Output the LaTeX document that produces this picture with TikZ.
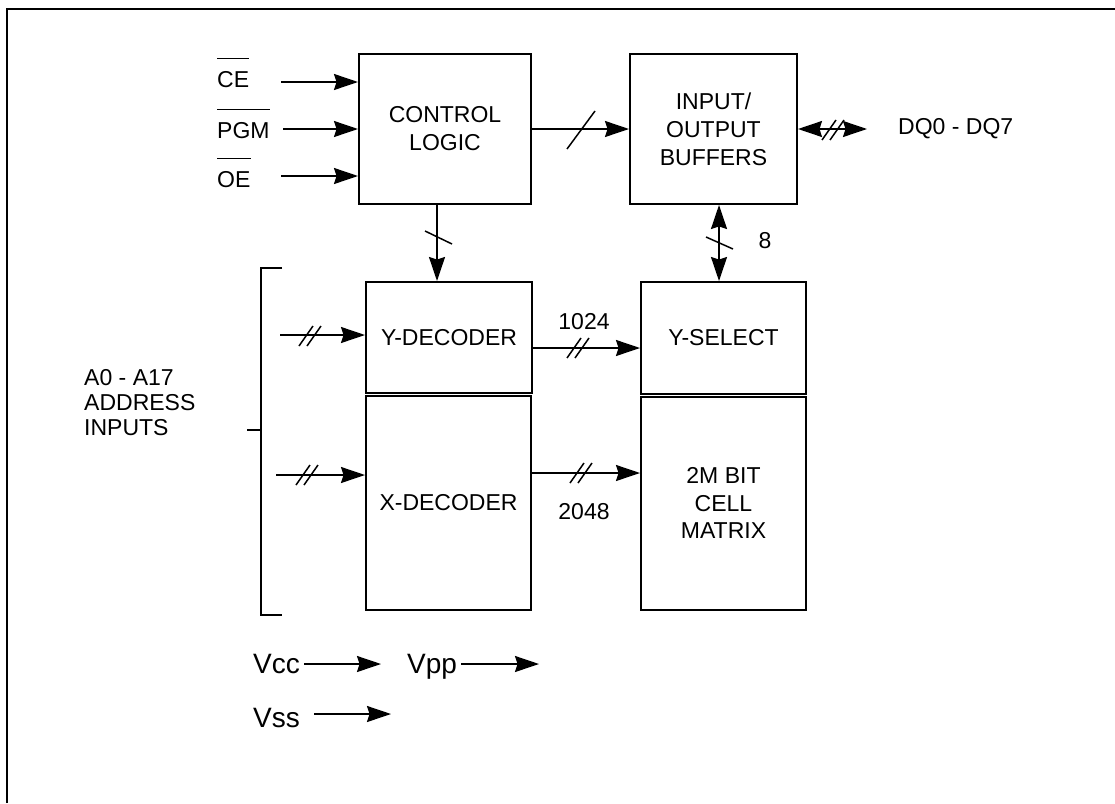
\documentclass[tikz,border=0pt]{standalone}
\usepackage{fontspec}
\setmainfont{Liberation Sans}
\usetikzlibrary{arrows.meta,calc}
\begin{document}
\begin{tikzpicture}[x=1pt,y=-1pt,
  box/.style={draw,line width=2pt,inner sep=0pt,font=\fontsize{23}{28}\selectfont,align=center},
  lbl/.style={inner sep=0pt,font=\fontsize{23}{28}\selectfont},
  vlbl/.style={inner sep=0pt,font=\fontsize{28}{32}\selectfont},
  tip/.tip={Stealth[length=24pt,width=16pt,inset=2.5pt]},
  arr/.style={line width=1.8pt,-tip},
  darr/.style={line width=1.8pt,tip-tip},
  slash/.style={line width=1.5pt},
  bar/.style={line width=1.5pt},
  dslash/.pic={\draw[slash] (-12,10) -- (2,-10); \draw[slash] (-4,10) -- (10,-10);}]
\useasboundingbox (0,0) rectangle (1115,803);
\draw[line width=2.5pt] (7,803) -- (7,9) -- (1115,9);

% blocks
\node[box,minimum width=172pt,minimum height=150pt] (ctrl) at (445,129) {CONTROL\\LOGIC};
\node[box,minimum width=167pt,minimum height=150pt] (io) at (713.5,129) {INPUT/\\OUTPUT\\BUFFERS};
\node[box,minimum width=166pt,minimum height=111pt] (ydec) at (449,337.5) {Y-DECODER};
\node[box,minimum width=165pt,minimum height=214.5pt] (xdec) at (448.5,502.75) {X-DECODER};
\node[box,minimum width=165pt,minimum height=112pt] (ysel) at (723.5,338) {Y-SELECT};
\node[box,minimum width=165pt,minimum height=213pt,font=\fontsize{23}{27.5}\selectfont] (mat) at (723.5,503) {2M BIT\\CELL\\MATRIX};

% control inputs
\node[lbl,anchor=base west] (ce) at (217,87) {CE};
\node[lbl,anchor=base west] (pgm) at (217,138) {PGM};
\node[lbl,anchor=base west] (oe) at (217,187) {OE};
\draw[bar] ([yshift=12pt]ce.north west) -- ([yshift=12pt]ce.north east);
\draw[bar] ([yshift=12pt]pgm.north west) -- ([yshift=12pt]pgm.north east);
\draw[bar] ([yshift=12pt]oe.north west) -- ([yshift=12pt]oe.north east);
\coordinate (cein) at (281,82);
\coordinate (pgmin) at (283,129);
\coordinate (oein) at (281,176);
\draw[arr] (cein) -- (cein -| ctrl.west);
\draw[arr] (pgmin) -- (pgmin -| ctrl.west);
\draw[arr] (oein) -- (oein -| ctrl.west);

% control -> io
\draw[arr] (ctrl.east) -- (io.west);
\draw[slash] (567,149) -- (595,111);

% io <-> DQ
\coordinate (dq) at (867,129);
\draw[darr] (io.east) -- (dq);
\pic at (834,130) {dslash};
\node[lbl,anchor=west] (dqlbl) at (898,129) {DQ0 - DQ7};

% control -> ydec
\draw[arr] ([xshift=-8pt]ctrl.south) -- ([xshift=-8pt]ctrl.south |- ydec.north);
\draw[slash] (425,231) -- (452,244);

% io <-> ysel
\draw[darr] ([xshift=5.5pt]io.south) -- ([xshift=5.5pt]io.south |- ysel.north);
\draw[slash] (706,237) -- (733,249);
\node[lbl] (eight) at (765,241) {8};

% ydec -> ysel
\draw[arr] (532,348) coordinate (ydo) -- (ydo -| ysel.west);
\pic at (579,348) {dslash};
\node[lbl] (n1024) at (584,322) {1024};

% xdec -> matrix
\draw[arr] (531,473) coordinate (xdo) -- (xdo -| mat.west);
\pic at (582,473) {dslash};
\node[lbl] (n2048) at (584,512) {2048};

% address inputs
\coordinate (yin) at (280,335);
\coordinate (xin) at (276,475);
\draw[arr] (yin) -- (yin -| ydec.west);
\draw[arr] (xin) -- (xin -| xdec.west);
\pic at (311,336) {dslash};
\pic at (308,475) {dslash};
\draw[line width=1.8pt] (282,268) -- (261,268) -- (261,615) -- (282,615);
\draw[line width=1.5pt] (247,430) -- (261,430);
\node[lbl,anchor=west,align=left,font=\fontsize{23}{25}\selectfont] (addr) at (84,403) {A0 - A17\\ADDRESS\\INPUTS};

% supplies
\node[vlbl,anchor=base west] (vcc) at (253,673) {Vcc};
\node[vlbl,anchor=base west] (vpp) at (407,673) {Vpp};
\node[vlbl,anchor=base west] (vss) at (253,727) {Vss};
\coordinate (vccout) at (381,664);
\coordinate (vppout) at (539,664);
\coordinate (vssout) at (391,714);
\draw[arr] (vcc.east |- vccout) ++(4,0) -- (vccout);
\draw[arr] (vpp.east |- vppout) ++(4,0) -- (vppout);
\draw[arr] (vss.east |- vssout) ++(14,0) -- (vssout);
\end{tikzpicture}
\end{document}
